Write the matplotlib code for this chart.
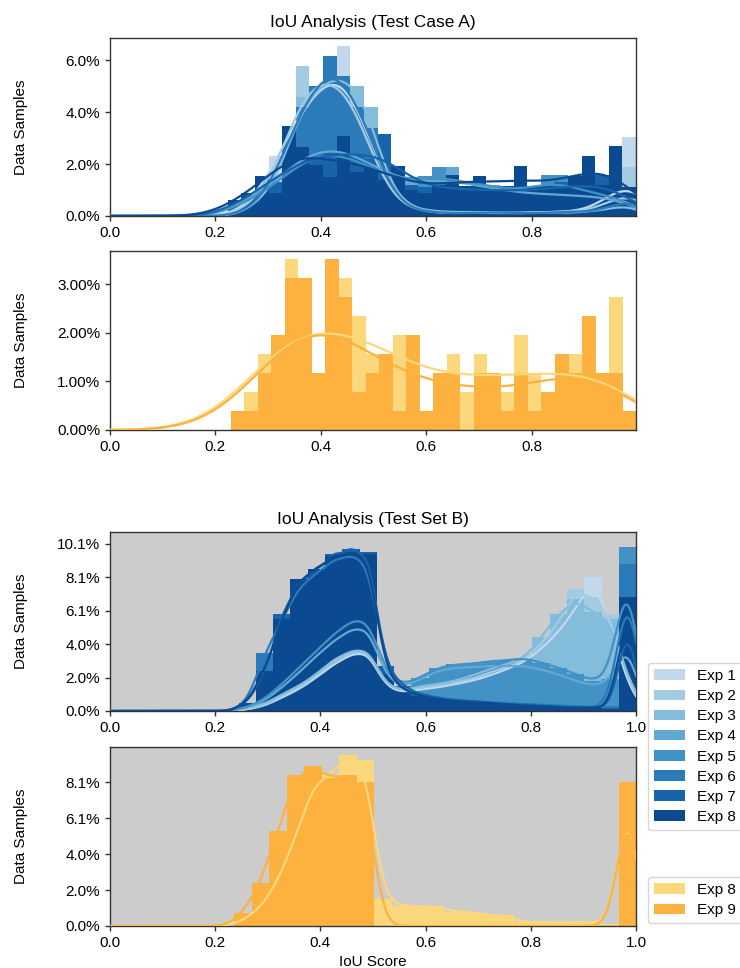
import numpy as np
import matplotlib
matplotlib.use("Agg")
import matplotlib.pyplot as plt
from matplotlib.ticker import PercentFormatter, MultipleLocator
from matplotlib.patches import Patch

plt.rcParams['font.family'] = ['Liberation Sans', 'DejaVu Sans']
plt.rcParams['font.size'] = 11

# ---------------- data ----------------
blue_labels = ['Exp 1', 'Exp 2', 'Exp 3', 'Exp 4', 'Exp 5', 'Exp 6', 'Exp 7', 'Exp 8']
orange_labels = ['Exp 8', 'Exp 9']
blue_colors = ['#c2d8ed', '#a3cbe2', '#84bcdc', '#62a8d3', '#4292c6', '#2b7bba', '#1764ab', '#0b4a90']
orange_colors = ['#fdd77b', '#fdb13f']

# Test Case A, blue experiments: percent of samples per bin (30 bins)
a_blue_range = (0.2237, 0.9985)
a_blue_pct = [
    [0.0, 0.2, 0.6, 2.3, 3.0, 4.6, 4.6, 5.6, 6.54, 4.6, 2.6, 1.0, 0.3, 0.2, 0.1, 0.1, 0.1, 0.2, 0.1, 0.1, 0.1, 0.1, 0.2, 0.1, 0.2, 0.1, 0.2, 0.3, 0.6, 3.06],
    [0.0, 0.3, 0.8, 1.2, 3.2, 5.77, 4.8, 5.6, 5.3, 4.4, 2.4, 0.8, 0.3, 0.2, 0.2, 0.1, 0.1, 0.1, 0.2, 0.1, 0.1, 0.1, 0.1, 0.2, 0.1, 0.2, 0.2, 0.3, 0.4, 1.9],
    [0.0, 0.2, 0.7, 1.0, 2.8, 4.6, 4.7, 5.5, 5.4, 5.0, 4.2, 1.4, 0.5, 0.3, 0.2, 0.2, 0.1, 0.2, 0.1, 0.2, 0.1, 0.1, 0.1, 0.2, 0.1, 0.1, 0.2, 0.2, 0.3, 0.6],
    [0.3, 0.6, 1.0, 1.2, 1.9, 2.4, 2.6, 2.7, 2.6, 2.4, 2.0, 1.6, 1.3, 1.5, 1.2, 1.1, 1.9, 1.0, 1.1, 1.2, 0.9, 0.9, 0.8, 0.9, 0.8, 0.8, 0.7, 0.8, 0.7, 0.6],
    [0.3, 0.5, 0.9, 1.1, 1.8, 2.2, 2.4, 2.6, 2.4, 2.2, 1.9, 1.5, 1.3, 1.2, 1.55, 1.9, 1.2, 1.1, 1.55, 1.0, 1.0, 0.9, 0.9, 1.57, 1.57, 0.9, 0.8, 0.9, 0.8, 0.7],
    [0.0, 0.2, 0.6, 1.3, 3.2, 4.2, 5.0, 6.15, 5.4, 4.2, 3.4, 1.2, 0.4, 0.2, 0.2, 0.1, 0.1, 0.1, 0.1, 0.2, 0.1, 0.1, 0.1, 0.1, 0.2, 0.1, 0.2, 0.2, 0.3, 1.1],
    [0.4, 0.7, 1.2, 1.3, 2.0, 2.3, 2.2, 2.5, 2.4, 2.35, 2.2, 3.16, 1.5, 1.2, 1.1, 1.1, 1.0, 1.0, 1.1, 0.9, 1.0, 1.0, 0.9, 1.0, 1.3, 1.1, 1.0, 1.57, 1.0, 0.9],
    [0.6, 0.9, 1.55, 0.9, 3.47, 2.67, 1.96, 1.5, 3.08, 1.7, 1.9, 1.4, 1.94, 1.0, 0.9, 1.2, 1.57, 1.15, 1.55, 1.1, 1.15, 1.94, 1.16, 1.2, 1.1, 1.55, 2.31, 1.2, 2.7, 1.1],
]

# Test Case A, orange experiments: sample counts per bin (30 bins), total 256
a_orange_range = (0.229, 0.9985)
a_orange_total = 256
a_orange_counts = [
    [1, 2, 4, 5, 9, 7, 3, 4, 8, 6, 4, 3, 5, 4, 1, 2, 4, 2, 4, 2, 2, 5, 3, 1, 3, 4, 4, 2, 7, 0],
    [1, 1, 3, 5, 8, 8, 3, 9, 7, 2, 3, 4, 1, 5, 1, 3, 3, 0, 3, 3, 1, 3, 1, 2, 4, 3, 6, 3, 3, 1],
]

# Test Set B, blue experiments: sample counts per bin (23 bins), percent base 988
b_total = 988
b_blue_range = (0.2446, 1.0)
b_blue_counts = [
    [1, 3, 8, 13, 20, 28, 34, 36, 14, 11, 13, 14, 16, 18, 21, 25, 29, 37, 47, 61, 80, 55, 15],
    [1, 3, 9, 14, 21, 30, 35, 37, 15, 12, 14, 15, 17, 19, 23, 26, 30, 40, 52, 73, 68, 58, 18],
    [2, 4, 10, 15, 22, 31, 36, 38, 15, 12, 15, 16, 18, 21, 25, 28, 31, 44, 58, 67, 59, 55, 20],
    [2, 6, 14, 23, 33, 42, 49, 51, 20, 14, 19, 24, 26, 26, 27, 27, 27, 25, 22, 18, 15, 17, 44],
    [2, 7, 16, 26, 36, 46, 54, 57, 22, 15, 20, 26, 28, 28, 30, 30, 32, 29, 26, 22, 18, 19, 98],
    [4, 35, 54, 75, 82, 91, 93, 92, 24, 12, 9, 8, 7, 6, 5, 5, 4, 4, 3, 3, 2, 3, 88],
    [5, 22, 58, 78, 84, 94, 97, 95, 27, 15, 10, 8, 6, 6, 5, 4, 4, 3, 3, 2, 2, 2, 54],
    [5, 24, 55, 79, 85, 93, 95, 94, 22, 13, 9, 7, 6, 5, 5, 4, 3, 3, 2, 2, 2, 1, 68],
]

# Test Set B, orange experiments: sample counts per bin (23 bins)
b_orange_range = (0.2364, 1.0)
b_orange_counts = [
    [3, 10, 25, 49, 79, 84, 95, 92, 15, 11, 11, 11, 8, 8, 6, 6, 2, 2, 2, 2, 2, 1, 79],
    [7, 24, 53, 84, 89, 82, 84, 80, 0, 0, 0, 0, 0, 0, 0, 0, 0, 0, 0, 0, 0, 0, 80],
]


# ---------------- helpers ----------------
def kde_line(edges, heights, xs, bw_factor):
    centers = 0.5 * (edges[:-1] + edges[1:])
    width = edges[1] - edges[0]
    w = np.asarray(heights, float)
    tot = w.sum()
    mean = np.sum(w * centers) / tot
    std = np.sqrt(np.sum(w * (centers - mean) ** 2) / tot)
    bw = bw_factor * std
    dens = (w[None, :] * np.exp(-0.5 * ((xs[:, None] - centers[None, :]) / bw) ** 2)).sum(1)
    dens /= tot * bw * np.sqrt(2 * np.pi)
    return dens * tot * width


def draw_panel(ax, rng, series, colors, xmax, bw_factor):
    n = len(series[0])
    edges = np.linspace(rng[0], rng[1], n + 1)
    for vals, c in zip(series, colors):
        ax.bar(edges[:-1], vals, width=edges[1] - edges[0], align='edge',
               color=c, linewidth=0, zorder=2)
    xs = np.linspace(0, xmax, 500)
    for vals, c in zip(series, colors):
        ax.plot(xs, kde_line(edges, vals, xs, bw_factor), color=c, lw=1.6, zorder=3)


def style(ax, gray=False):
    for s in ax.spines.values():
        s.set_color('#333333')
        s.set_linewidth(1.0)
    ax.tick_params(direction='out', length=3.5, width=1, color='#333333', labelsize=11)
    if gray:
        ax.set_facecolor('#cccccc')
    ax.set_ylabel('Data Samples', fontsize=11)
    ax.yaxis.set_label_coords(-0.156, 0.5)
    ax.xaxis.set_major_locator(MultipleLocator(0.2))


# ---------------- figure ----------------
fig = plt.figure(figsize=(7.4, 9.68), dpi=100)
L, W = 0.1486, 0.711
ax1 = fig.add_axes([L, 0.7769, W, 0.1839])
ax2 = fig.add_axes([L, 0.5558, W, 0.1849])
ax3 = fig.add_axes([L, 0.2655, W, 0.1849])
ax4 = fig.add_axes([L, 0.0434, W, 0.1849])

draw_panel(ax1, a_blue_range, a_blue_pct, blue_colors, a_blue_range[1], 0.22)
a_orange_pct = [list(np.array(c) / a_orange_total * 100) for c in a_orange_counts]
draw_panel(ax2, a_orange_range, a_orange_pct, orange_colors, a_orange_range[1], 0.4)
draw_panel(ax3, b_blue_range, b_blue_counts, blue_colors, 1.0, 0.1)
draw_panel(ax4, b_orange_range, b_orange_counts, orange_colors, 1.0, 0.1)

for ax in (ax1, ax2):
    style(ax)
    ax.set_xlim(0, a_blue_range[1])
    ax.yaxis.set_major_formatter(PercentFormatter(xmax=100))
ax1.set_ylim(0, 6.86)
ax1.yaxis.set_major_locator(MultipleLocator(2))
ax2.set_ylim(0, 3.69)
ax2.yaxis.set_major_locator(MultipleLocator(1))

for ax in (ax3, ax4):
    style(ax, gray=True)
    ax.set_xlim(0, 1.0)
    ax.yaxis.set_major_locator(MultipleLocator(20))
    ax.yaxis.set_major_formatter(PercentFormatter(xmax=b_total))
ax3.set_ylim(0, 107.1)
ax4.set_ylim(0, 99.5)

ax1.set_title('IoU Analysis (Test Case A)', fontsize=12.5, pad=8)
ax3.set_title('IoU Analysis (Test Set B)', fontsize=12.5, pad=6)
ax4.set_xlabel('IoU Score', fontsize=11)

h1 = [Patch(facecolor=c, edgecolor='none') for c in blue_colors]
fig.legend(h1, blue_labels, loc='upper left', bbox_to_anchor=(0.8757, 0.3151),
           borderaxespad=0, fontsize=11, labelspacing=0.4)
h2 = [Patch(facecolor=c, edgecolor='none') for c in orange_colors]
fig.legend(h2, orange_labels, loc='upper left', bbox_to_anchor=(0.8757, 0.094),
           borderaxespad=0, fontsize=11, labelspacing=0.4)

fig.savefig('out.png', dpi=100)
